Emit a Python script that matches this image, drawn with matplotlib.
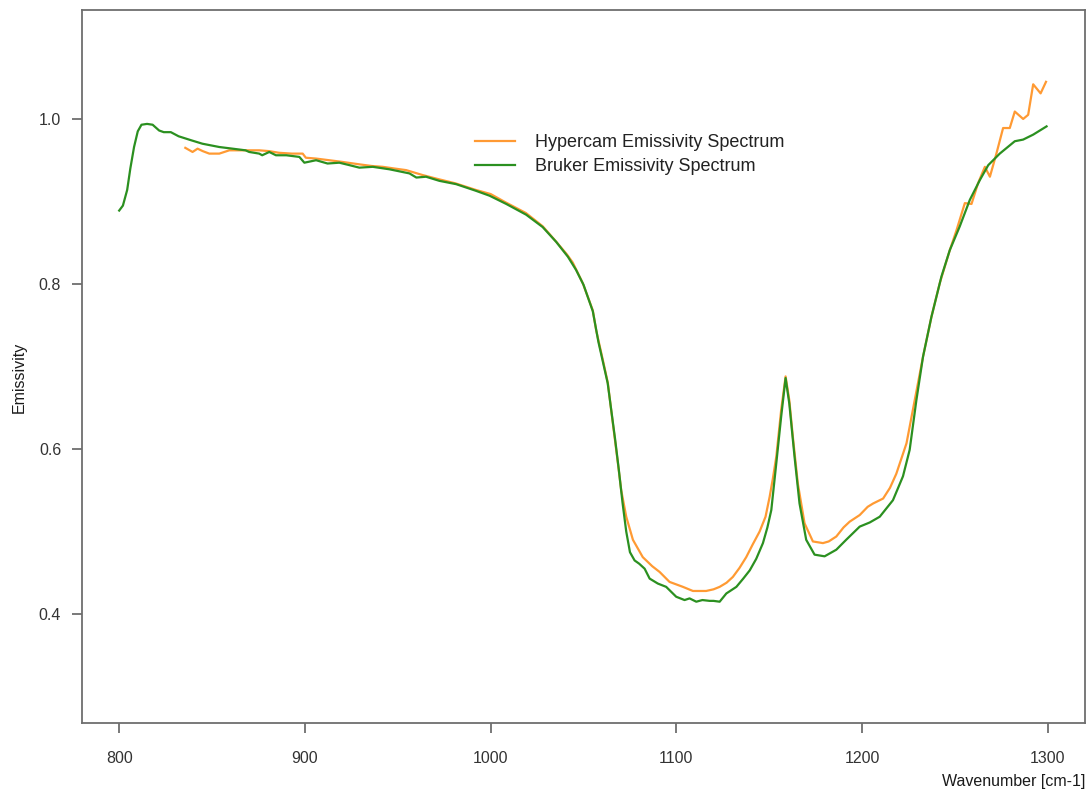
import matplotlib

matplotlib.use("Agg")
import matplotlib.pyplot as plt
import numpy as np

plt.rcParams["font.family"] = ["Liberation Sans", "DejaVu Sans"]

# Bruker FTIR reference spectrum
bruker_wn = [
    800, 802, 804.3, 806, 808, 810, 812, 815, 818, 821.5, 824, 827.8, 832, 839,
    844.8, 853.9, 861, 868, 870, 875.4, 877, 880.8, 884.4, 890, 897, 899.7, 906,
    912.2, 918.5, 924, 929.3, 936.5, 945.5, 956.3, 960, 965.2, 972.4, 981.4, 992,
    999.4, 1008.4, 1019.1, 1028, 1035.3, 1041.6, 1046, 1050, 1055, 1058, 1060.4,
    1063, 1065, 1067, 1069, 1071, 1073, 1075, 1077.5, 1080, 1082.9, 1085.6, 1090,
    1094.5, 1099.9, 1104.4, 1107.1, 1110.7, 1114, 1117.9, 1120, 1123.3, 1126.9,
    1132.3, 1136, 1139.5, 1143, 1146.6, 1149, 1151.1, 1153.8, 1156.4, 1158.8,
    1160.8, 1163.6, 1166.3, 1169.9, 1174.4, 1179.8, 1186.1, 1191.4, 1198.7,
    1204.1, 1209.5, 1216.6, 1222, 1225.6, 1229.2, 1232.8, 1237.3, 1242.7, 1247.2,
    1252.6, 1258, 1263.4, 1267.9, 1274.1, 1282.2, 1286.7, 1292.1, 1299.3,
]
bruker_em = [
    0.889, 0.895, 0.914, 0.940, 0.966, 0.985, 0.993, 0.994, 0.993, 0.986, 0.984,
    0.984, 0.979, 0.974, 0.970, 0.966, 0.964, 0.962, 0.960, 0.958, 0.956, 0.960,
    0.956, 0.956, 0.954, 0.947, 0.950, 0.946, 0.947, 0.944, 0.941, 0.942, 0.939,
    0.934, 0.929, 0.930, 0.925, 0.921, 0.913, 0.907, 0.897, 0.884, 0.869, 0.851,
    0.833, 0.817, 0.799, 0.767, 0.730, 0.706, 0.680, 0.646, 0.612, 0.575, 0.535,
    0.500, 0.475, 0.465, 0.461, 0.455, 0.443, 0.437, 0.433, 0.421, 0.417, 0.419,
    0.415, 0.417, 0.416, 0.416, 0.415, 0.425, 0.433, 0.443, 0.453, 0.467, 0.486,
    0.505, 0.526, 0.583, 0.639, 0.686, 0.655, 0.591, 0.534, 0.490, 0.472, 0.470,
    0.478, 0.490, 0.506, 0.511, 0.518, 0.538, 0.567, 0.599, 0.659, 0.712, 0.760,
    0.809, 0.841, 0.870, 0.902, 0.926, 0.944, 0.958, 0.973, 0.975, 0.981, 0.991,
]

# Hypercam retrieved emissivity
hypercam_wn = [
    835.6, 839.5, 842.2, 845, 848.5, 853.9, 859.3, 866.3, 875.4, 880.8, 886, 893,
    898.8, 900.5, 906, 913, 920, 929.3, 936, 941.9, 948, 954.5, 963.4, 972, 981,
    992, 1000, 1008, 1019, 1028, 1035, 1041, 1044.2, 1049.6, 1055, 1056.8, 1060.4,
    1063.1, 1064.9, 1066.7, 1068.5, 1070.3, 1073, 1076.6, 1081.9, 1087, 1091,
    1096.3, 1103.5, 1108.9, 1116, 1120, 1123.3, 1127, 1130.4, 1134, 1137.6, 1141,
    1144.8, 1148, 1150.2, 1152, 1153.8, 1156.4, 1158.8, 1160.8, 1162.7, 1165.4,
    1169, 1173.5, 1178.9, 1182, 1186.1, 1190, 1193.3, 1198.7, 1203, 1205.9,
    1211.3, 1215, 1218.4, 1223.9, 1228.3, 1232.8, 1237.3, 1241.8, 1247.2, 1250.8,
    1255.3, 1258.9, 1262.4, 1266.1, 1268.8, 1272.3, 1275.9, 1279.5, 1282.2,
    1286.7, 1289.4, 1292.1, 1296.1, 1299,
]
hypercam_em = [
    0.965, 0.960, 0.964, 0.961, 0.958, 0.958, 0.962, 0.962, 0.962, 0.961, 0.959,
    0.958, 0.958, 0.953, 0.952, 0.950, 0.948, 0.945, 0.943, 0.942, 0.940, 0.938,
    0.932, 0.927, 0.922, 0.914, 0.909, 0.899, 0.886, 0.870, 0.852, 0.836, 0.826,
    0.801, 0.768, 0.744, 0.708, 0.680, 0.647, 0.615, 0.583, 0.550, 0.518, 0.490,
    0.469, 0.458, 0.451, 0.439, 0.433, 0.428, 0.428, 0.430, 0.433, 0.438, 0.445,
    0.456, 0.469, 0.484, 0.500, 0.518, 0.542, 0.565, 0.591, 0.647, 0.688, 0.659,
    0.615, 0.558, 0.510, 0.488, 0.486, 0.488, 0.494, 0.505, 0.512, 0.520, 0.530,
    0.534, 0.540, 0.553, 0.570, 0.607, 0.659, 0.712, 0.760, 0.801, 0.841, 0.865,
    0.898, 0.897, 0.922, 0.942, 0.930, 0.958, 0.989, 0.989, 1.009, 1.000, 1.005,
    1.042, 1.031, 1.045,
]

x_ticks = [800, 900, 1000, 1100, 1200, 1300]
y_ticks = [0.4, 0.6, 0.8, 1.0]

fig = plt.figure(figsize=(10.91, 7.96), dpi=100)
ax = fig.add_axes([0.0752, 0.0917, 0.9193, 0.8957])

ax.plot(hypercam_wn, hypercam_em, color="#ff9a33", lw=1.6,
        label="Hypercam Emissivity Spectrum")
ax.plot(bruker_wn, bruker_em, color="#2b9020", lw=1.6,
        label="Bruker Emissivity Spectrum")

# R-style 4% padding around the data range
ax.set_xlim(780, 1320)
ax.set_ylim(0.268, 1.132)

ax.set_xticks(x_ticks)
ax.set_xticklabels([str(t) for t in x_ticks])
ax.set_yticks(y_ticks)
ax.set_yticklabels([f"{t:.1f}" for t in y_ticks])

for side in ax.spines.values():
    side.set_color("#6e6e6e")
    side.set_linewidth(1.3)
ax.tick_params(axis="both", length=7, width=1.3, color="#6e6e6e",
               labelsize=11.5, labelcolor="#333333")
ax.tick_params(axis="x", pad=13)
ax.tick_params(axis="y", pad=8)

ax.set_ylabel("Emissivity", fontsize=11.5, color="#1a1a1a")
ax.yaxis.set_label_coords(-0.055, 0.485)
ax.set_xlabel("Wavenumber [cm-1]", fontsize=11.5, color="#1a1a1a")
ax.xaxis.set_label_coords(1.0, -0.072)
ax.xaxis.label.set_horizontalalignment("right")

ax.legend(loc="upper left", bbox_to_anchor=(0.392, 0.826), frameon=False,
          fontsize=13, handlelength=2.2, handletextpad=1.1, labelspacing=0.4,
          borderpad=0, borderaxespad=0, labelcolor="#222222")

fig.savefig("out.png", dpi=100)
